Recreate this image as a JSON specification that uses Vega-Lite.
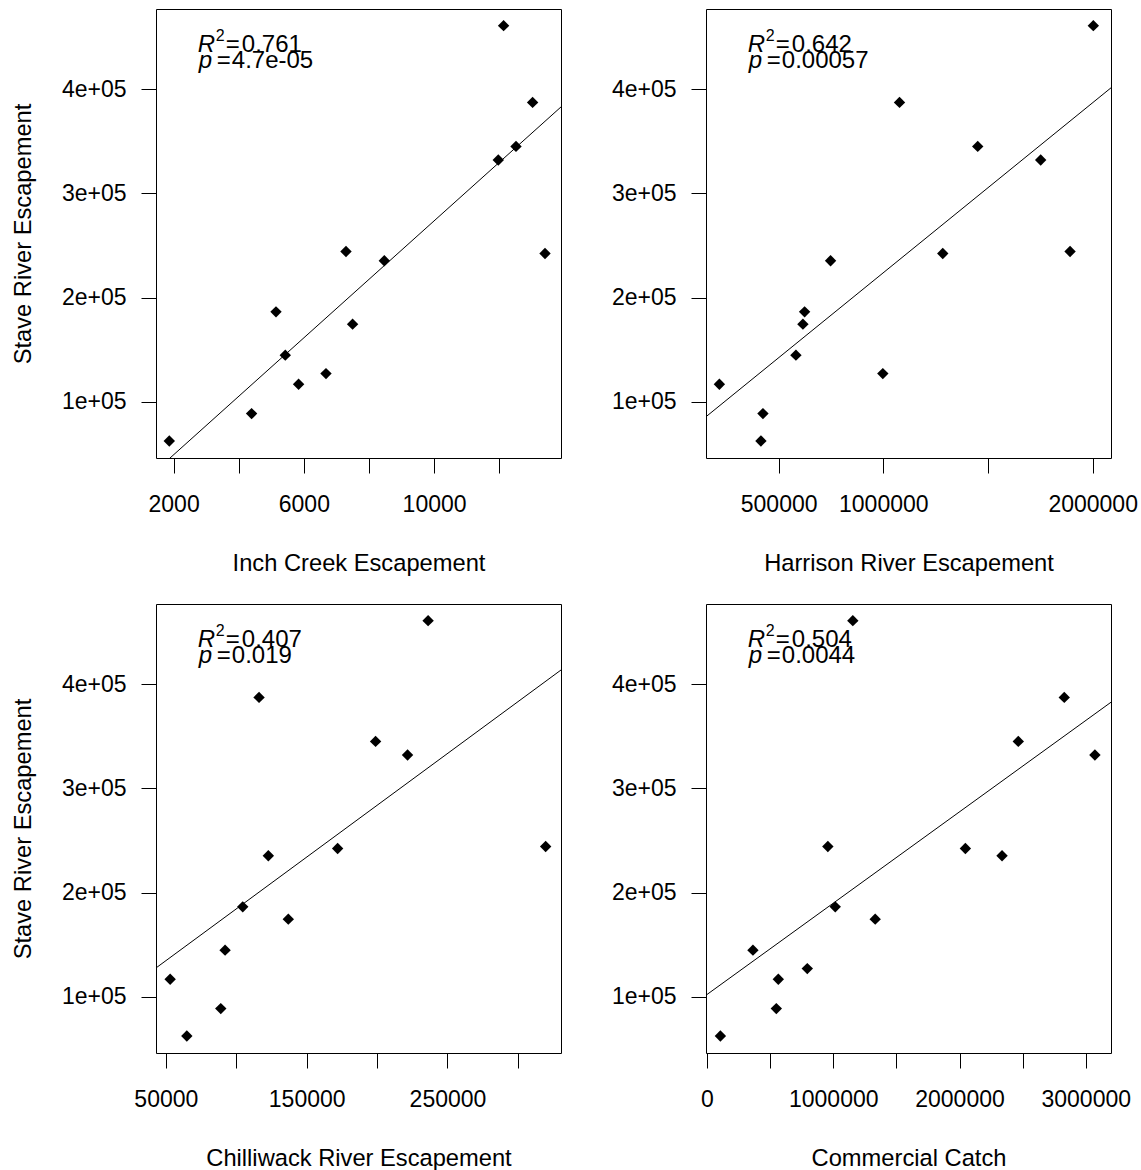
{
  "$schema": "https://vega.github.io/schema/vega-lite/v6.json",
  "padding": {"left": 10, "top": 8, "right": 0, "bottom": 0},
  "autosize": {"type": "pad"},
  "background": "white",
  "datasets": {
    "salmon": [
      {"stave": 62570, "inch": 1868, "harrison": 415500, "chilliwack": 64890, "commercial": 106000},
      {"stave": 88770, "inch": 4395, "harrison": 425100, "chilliwack": 89000, "commercial": 549000},
      {"stave": 186370, "inch": 5145, "harrison": 624100, "chilliwack": 104600, "commercial": 1015800},
      {"stave": 144820, "inch": 5430, "harrison": 582600, "chilliwack": 92060, "commercial": 363900},
      {"stave": 116990, "inch": 5839, "harrison": 217000, "chilliwack": 53050, "commercial": 564800},
      {"stave": 127160, "inch": 6680, "harrison": 997700, "chilliwack": null, "commercial": 794300},
      {"stave": 244240, "inch": 7294, "harrison": 1892000, "chilliwack": 319700, "commercial": 957200},
      {"stave": 174570, "inch": 7497, "harrison": 616000, "chilliwack": 136950, "commercial": 1332200},
      {"stave": 235320, "inch": 8471, "harrison": 748100, "chilliwack": 122770, "commercial": 2336900},
      {"stave": 331960, "inch": 11971, "harrison": 1751700, "chilliwack": 221630, "commercial": 3072600},
      {"stave": 460850, "inch": 12134, "harrison": 2003200, "chilliwack": 236230, "commercial": 1155000},
      {"stave": 345010, "inch": 12515, "harrison": 1451000, "chilliwack": 198930, "commercial": 2465800},
      {"stave": 387240, "inch": 13025, "harrison": 1077400, "chilliwack": 116170, "commercial": 2829800},
      {"stave": 242320, "inch": 13406, "harrison": 1284000, "chilliwack": 171980, "commercial": 2046600}
    ],
    "stats": [
      {"panel": "inch", "r2": "0.761", "p": "4.7e-05"},
      {"panel": "harrison", "r2": "0.642", "p": "0.00057"},
      {"panel": "chilliwack", "r2": "0.407", "p": "0.019"},
      {"panel": "commercial", "r2": "0.504", "p": "0.0044"}
    ]
  },
  "columns": 2,
  "spacing": {"row": 146, "column": 145},
  "bounds": "flush",
  "concat": [
    {
      "width": 405, "height": 449,
      "layer": [
        {
          "data": {"name": "salmon"},
          "mark": {"type": "point", "shape": "diamond", "filled": true, "color": "black", "size": 130, "opacity": 1},
          "encoding": {
            "x": {"field": "inch", "type": "quantitative", "scale": {"domain": [1460, 13897], "nice": false, "zero": false},
                  "axis": {"title": "Inch Creek Escapement", "values": [2000, 4000, 6000, 8000, 10000, 12000], "format": "d", "labelExpr": "datum.value % 4000 == 2000 ? datum.label : ''"}},
            "y": {"field": "stave", "type": "quantitative", "scale": {"domain": [46200, 476800], "nice": false, "zero": false},
                  "axis": {"title": "Stave River Escapement", "values": [100000, 200000, 300000, 400000], "labelExpr": "(datum.value / 100000) + 'e+05'"}}
          }
        },
        {
          "data": {"name": "salmon"},
          "transform": [{"regression": "stave", "on": "inch", "extent": [1460, 13897]}],
          "mark": {"type": "line", "color": "black", "strokeWidth": 1, "clip": true},
          "encoding": {
            "x": {"field": "inch", "type": "quantitative", "title": "Inch Creek Escapement"},
            "y": {"field": "stave", "type": "quantitative", "title": "Stave River Escapement"}
          }
        },
        {"data": {"name": "stats"}, "transform": [{"filter": "datum.panel == 'inch'"}],
         "mark": {"type": "text", "text": "R", "fontStyle": "italic", "fontSize": 24, "align": "left", "baseline": "alphabetic", "color": "black"},
         "encoding": {"x": {"datum": 2744}, "y": {"datum": 435850}}},
        {"data": {"name": "stats"}, "transform": [{"filter": "datum.panel == 'inch'"}],
         "mark": {"type": "text", "text": "2", "fontSize": 16, "dx": 18, "dy": -11, "align": "left", "baseline": "alphabetic", "color": "black"},
         "encoding": {"x": {"datum": 2744}, "y": {"datum": 435850}}},
        {"data": {"name": "stats"}, "transform": [{"filter": "datum.panel == 'inch'"}],
         "mark": {"type": "text", "text": "=", "fontSize": 24, "dx": 28, "align": "left", "baseline": "alphabetic", "color": "black"},
         "encoding": {"x": {"datum": 2744}, "y": {"datum": 435850}}},
        {"data": {"name": "stats"}, "transform": [{"filter": "datum.panel == 'inch'"}],
         "mark": {"type": "text", "fontSize": 24, "dx": 44, "align": "left", "baseline": "alphabetic", "color": "black"},
         "encoding": {"x": {"datum": 2744}, "y": {"datum": 435850}, "text": {"field": "r2"}}},
        {"data": {"name": "stats"}, "transform": [{"filter": "datum.panel == 'inch'"}],
         "mark": {"type": "text", "text": "p", "fontStyle": "italic", "fontSize": 24, "dx": 1, "align": "left", "baseline": "alphabetic", "color": "black"},
         "encoding": {"x": {"datum": 2744}, "y": {"datum": 419830}}},
        {"data": {"name": "stats"}, "transform": [{"filter": "datum.panel == 'inch'"}],
         "mark": {"type": "text", "text": "=", "fontSize": 24, "dx": 19, "align": "left", "baseline": "alphabetic", "color": "black"},
         "encoding": {"x": {"datum": 2744}, "y": {"datum": 419830}}},
        {"data": {"name": "stats"}, "transform": [{"filter": "datum.panel == 'inch'"}],
         "mark": {"type": "text", "fontSize": 24, "dx": 34, "align": "left", "baseline": "alphabetic", "color": "black"},
         "encoding": {"x": {"datum": 2744}, "y": {"datum": 419830}, "text": {"field": "p"}}}
      ]
    },
    {
      "width": 405, "height": 449,
      "layer": [
        {
          "data": {"name": "salmon"},
          "mark": {"type": "point", "shape": "diamond", "filled": true, "color": "black", "size": 130, "opacity": 1},
          "encoding": {
            "x": {"field": "harrison", "type": "quantitative", "scale": {"domain": [153100, 2087600], "nice": false, "zero": false},
                  "axis": {"title": "Harrison River Escapement", "values": [500000, 1000000, 1500000, 2000000], "format": "d", "labelExpr": "datum.value == 1500000 ? '' : datum.label"}},
            "y": {"field": "stave", "type": "quantitative", "scale": {"domain": [46200, 476800], "nice": false, "zero": false},
                  "axis": {"title": null, "values": [100000, 200000, 300000, 400000], "labelExpr": "(datum.value / 100000) + 'e+05'"}}
          }
        },
        {
          "data": {"name": "salmon"},
          "transform": [{"regression": "stave", "on": "harrison", "extent": [153100, 2087600]}],
          "mark": {"type": "line", "color": "black", "strokeWidth": 1, "clip": true},
          "encoding": {
            "x": {"field": "harrison", "type": "quantitative", "title": "Harrison River Escapement"},
            "y": {"field": "stave", "type": "quantitative", "title": null}
          }
        },
        {"data": {"name": "stats"}, "transform": [{"filter": "datum.panel == 'harrison'"}],
         "mark": {"type": "text", "text": "R", "fontStyle": "italic", "fontSize": 24, "align": "left", "baseline": "alphabetic", "color": "black"},
         "encoding": {"x": {"datum": 352760}, "y": {"datum": 435850}}},
        {"data": {"name": "stats"}, "transform": [{"filter": "datum.panel == 'harrison'"}],
         "mark": {"type": "text", "text": "2", "fontSize": 16, "dx": 18, "dy": -11, "align": "left", "baseline": "alphabetic", "color": "black"},
         "encoding": {"x": {"datum": 352760}, "y": {"datum": 435850}}},
        {"data": {"name": "stats"}, "transform": [{"filter": "datum.panel == 'harrison'"}],
         "mark": {"type": "text", "text": "=", "fontSize": 24, "dx": 28, "align": "left", "baseline": "alphabetic", "color": "black"},
         "encoding": {"x": {"datum": 352760}, "y": {"datum": 435850}}},
        {"data": {"name": "stats"}, "transform": [{"filter": "datum.panel == 'harrison'"}],
         "mark": {"type": "text", "fontSize": 24, "dx": 44, "align": "left", "baseline": "alphabetic", "color": "black"},
         "encoding": {"x": {"datum": 352760}, "y": {"datum": 435850}, "text": {"field": "r2"}}},
        {"data": {"name": "stats"}, "transform": [{"filter": "datum.panel == 'harrison'"}],
         "mark": {"type": "text", "text": "p", "fontStyle": "italic", "fontSize": 24, "dx": 1, "align": "left", "baseline": "alphabetic", "color": "black"},
         "encoding": {"x": {"datum": 352760}, "y": {"datum": 419830}}},
        {"data": {"name": "stats"}, "transform": [{"filter": "datum.panel == 'harrison'"}],
         "mark": {"type": "text", "text": "=", "fontSize": 24, "dx": 19, "align": "left", "baseline": "alphabetic", "color": "black"},
         "encoding": {"x": {"datum": 352760}, "y": {"datum": 419830}}},
        {"data": {"name": "stats"}, "transform": [{"filter": "datum.panel == 'harrison'"}],
         "mark": {"type": "text", "fontSize": 24, "dx": 34, "align": "left", "baseline": "alphabetic", "color": "black"},
         "encoding": {"x": {"datum": 352760}, "y": {"datum": 419830}, "text": {"field": "p"}}}
      ]
    },
    {
      "width": 405, "height": 449,
      "layer": [
        {
          "data": {"name": "salmon"},
          "transform": [{"filter": "datum.chilliwack != null"}],
          "mark": {"type": "point", "shape": "diamond", "filled": true, "color": "black", "size": 130, "opacity": 1},
          "encoding": {
            "x": {"field": "chilliwack", "type": "quantitative", "scale": {"domain": [43000, 330600], "nice": false, "zero": false},
                  "axis": {"title": "Chilliwack River Escapement", "values": [50000, 100000, 150000, 200000, 250000, 300000], "format": "d", "labelExpr": "datum.value % 100000 == 50000 ? datum.label : ''"}},
            "y": {"field": "stave", "type": "quantitative", "scale": {"domain": [46200, 476800], "nice": false, "zero": false},
                  "axis": {"title": "Stave River Escapement", "values": [100000, 200000, 300000, 400000], "labelExpr": "(datum.value / 100000) + 'e+05'"}}
          }
        },
        {
          "data": {"name": "salmon"},
          "transform": [{"filter": "datum.chilliwack != null"}, {"regression": "stave", "on": "chilliwack", "extent": [43000, 330600]}],
          "mark": {"type": "line", "color": "black", "strokeWidth": 1, "clip": true},
          "encoding": {
            "x": {"field": "chilliwack", "type": "quantitative", "title": "Chilliwack River Escapement"},
            "y": {"field": "stave", "type": "quantitative", "title": "Stave River Escapement"}
          }
        },
        {"data": {"name": "stats"}, "transform": [{"filter": "datum.panel == 'chilliwack'"}],
         "mark": {"type": "text", "text": "R", "fontStyle": "italic", "fontSize": 24, "align": "left", "baseline": "alphabetic", "color": "black"},
         "encoding": {"x": {"datum": 72683}, "y": {"datum": 435850}}},
        {"data": {"name": "stats"}, "transform": [{"filter": "datum.panel == 'chilliwack'"}],
         "mark": {"type": "text", "text": "2", "fontSize": 16, "dx": 18, "dy": -11, "align": "left", "baseline": "alphabetic", "color": "black"},
         "encoding": {"x": {"datum": 72683}, "y": {"datum": 435850}}},
        {"data": {"name": "stats"}, "transform": [{"filter": "datum.panel == 'chilliwack'"}],
         "mark": {"type": "text", "text": "=", "fontSize": 24, "dx": 28, "align": "left", "baseline": "alphabetic", "color": "black"},
         "encoding": {"x": {"datum": 72683}, "y": {"datum": 435850}}},
        {"data": {"name": "stats"}, "transform": [{"filter": "datum.panel == 'chilliwack'"}],
         "mark": {"type": "text", "fontSize": 24, "dx": 44, "align": "left", "baseline": "alphabetic", "color": "black"},
         "encoding": {"x": {"datum": 72683}, "y": {"datum": 435850}, "text": {"field": "r2"}}},
        {"data": {"name": "stats"}, "transform": [{"filter": "datum.panel == 'chilliwack'"}],
         "mark": {"type": "text", "text": "p", "fontStyle": "italic", "fontSize": 24, "dx": 1, "align": "left", "baseline": "alphabetic", "color": "black"},
         "encoding": {"x": {"datum": 72683}, "y": {"datum": 419830}}},
        {"data": {"name": "stats"}, "transform": [{"filter": "datum.panel == 'chilliwack'"}],
         "mark": {"type": "text", "text": "=", "fontSize": 24, "dx": 19, "align": "left", "baseline": "alphabetic", "color": "black"},
         "encoding": {"x": {"datum": 72683}, "y": {"datum": 419830}}},
        {"data": {"name": "stats"}, "transform": [{"filter": "datum.panel == 'chilliwack'"}],
         "mark": {"type": "text", "fontSize": 24, "dx": 34, "align": "left", "baseline": "alphabetic", "color": "black"},
         "encoding": {"x": {"datum": 72683}, "y": {"datum": 419830}, "text": {"field": "p"}}}
      ]
    },
    {
      "width": 405, "height": 449,
      "layer": [
        {
          "data": {"name": "salmon"},
          "mark": {"type": "point", "shape": "diamond", "filled": true, "color": "black", "size": 130, "opacity": 1},
          "encoding": {
            "x": {"field": "commercial", "type": "quantitative", "scale": {"domain": [-8000, 3200000], "nice": false, "zero": false},
                  "axis": {"title": "Commercial Catch", "values": [0, 500000, 1000000, 1500000, 2000000, 2500000, 3000000], "format": "d", "labelExpr": "datum.value % 1000000 == 0 ? datum.label : ''"}},
            "y": {"field": "stave", "type": "quantitative", "scale": {"domain": [46200, 476800], "nice": false, "zero": false},
                  "axis": {"title": null, "values": [100000, 200000, 300000, 400000], "labelExpr": "(datum.value / 100000) + 'e+05'"}}
          }
        },
        {
          "data": {"name": "salmon"},
          "transform": [{"regression": "stave", "on": "commercial", "extent": [-8000, 3200000]}],
          "mark": {"type": "line", "color": "black", "strokeWidth": 1, "clip": true},
          "encoding": {
            "x": {"field": "commercial", "type": "quantitative", "title": "Commercial Catch"},
            "y": {"field": "stave", "type": "quantitative", "title": null}
          }
        },
        {"data": {"name": "stats"}, "transform": [{"filter": "datum.panel == 'commercial'"}],
         "mark": {"type": "text", "text": "R", "fontStyle": "italic", "fontSize": 24, "align": "left", "baseline": "alphabetic", "color": "black"},
         "encoding": {"x": {"datum": 323100}, "y": {"datum": 435850}}},
        {"data": {"name": "stats"}, "transform": [{"filter": "datum.panel == 'commercial'"}],
         "mark": {"type": "text", "text": "2", "fontSize": 16, "dx": 18, "dy": -11, "align": "left", "baseline": "alphabetic", "color": "black"},
         "encoding": {"x": {"datum": 323100}, "y": {"datum": 435850}}},
        {"data": {"name": "stats"}, "transform": [{"filter": "datum.panel == 'commercial'"}],
         "mark": {"type": "text", "text": "=", "fontSize": 24, "dx": 28, "align": "left", "baseline": "alphabetic", "color": "black"},
         "encoding": {"x": {"datum": 323100}, "y": {"datum": 435850}}},
        {"data": {"name": "stats"}, "transform": [{"filter": "datum.panel == 'commercial'"}],
         "mark": {"type": "text", "fontSize": 24, "dx": 44, "align": "left", "baseline": "alphabetic", "color": "black"},
         "encoding": {"x": {"datum": 323100}, "y": {"datum": 435850}, "text": {"field": "r2"}}},
        {"data": {"name": "stats"}, "transform": [{"filter": "datum.panel == 'commercial'"}],
         "mark": {"type": "text", "text": "p", "fontStyle": "italic", "fontSize": 24, "dx": 1, "align": "left", "baseline": "alphabetic", "color": "black"},
         "encoding": {"x": {"datum": 323100}, "y": {"datum": 419830}}},
        {"data": {"name": "stats"}, "transform": [{"filter": "datum.panel == 'commercial'"}],
         "mark": {"type": "text", "text": "=", "fontSize": 24, "dx": 19, "align": "left", "baseline": "alphabetic", "color": "black"},
         "encoding": {"x": {"datum": 323100}, "y": {"datum": 419830}}},
        {"data": {"name": "stats"}, "transform": [{"filter": "datum.panel == 'commercial'"}],
         "mark": {"type": "text", "fontSize": 24, "dx": 34, "align": "left", "baseline": "alphabetic", "color": "black"},
         "encoding": {"x": {"datum": 323100}, "y": {"datum": 419830}, "text": {"field": "p"}}}
      ]
    }
  ],
  "config": {
    "font": "Liberation Sans",
    "view": {"stroke": "black", "strokeWidth": 1},
    "axis": {
      "domain": false, "grid": false, "ticks": true,
      "tickColor": "black", "tickSize": 15, "tickWidth": 1,
      "labelFont": "Liberation Sans", "labelFontSize": 23, "labelColor": "black",
      "titleFont": "Liberation Sans", "titleFontSize": 23.7, "titleFontWeight": "normal", "titleColor": "black",
      "labelOverlap": false, "labelFlush": false, "labelBound": false
    },
    "axisX": {"labelPadding": 20, "titlePadding": 35},
    "axisY": {"labelPadding": 15, "titlePadding": 26}
  }
}
